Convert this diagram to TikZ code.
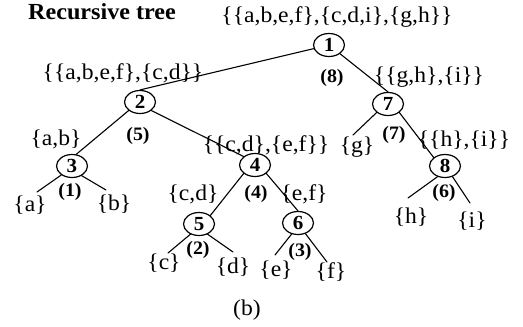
\documentclass[tikz,border=0pt]{standalone}
\usepackage{fontspec}
\setmainfont{Liberation Serif}[FakeStretch=1.05]
\usetikzlibrary{shapes.geometric}

\begin{document}
\begin{tikzpicture}[x=1pt, y=-1pt, line width=1.1pt, line cap=round,
  vtx/.style={ellipse, draw, line width=1.2pt, minimum width=31pt, minimum height=23pt,
    inner sep=0pt, font=\fontsize{20}{20}\selectfont\bfseries},
  set/.style={inner sep=0pt, font=\fontsize{22.5}{22.5}\selectfont},
  cnt/.style={inner sep=0pt, font=\fontsize{19}{19}\selectfont\bfseries}]
  \useasboundingbox (0,0) rectangle (523,327);
  \node[inner sep=0pt, font=\fontsize{23}{23}\selectfont\bfseries] (title) at (102,12) {Recursive tree};
  % the eight vertices
  \node[vtx] (n1) at (329,45) {1};
  \node[vtx] (n2) at (140,102) {2};
  \node[vtx] (n7) at (388,104) {7};
  \node[vtx] (n3) at (72,166) {3};
  \node[vtx] (n4) at (255,165) {4};
  \node[vtx] (n8) at (445,166) {8};
  \node[vtx] (n5) at (199,224) {5};
  \node[vtx] (n6) at (298,223) {6};
  % sets above / beside each vertex
  \node[set] (s1) at (337,17) {\{\{a,b,e,f\},\{c,d,i\},\{g,h\}\}};
  \node[set] (s2) at (123,73) {\{\{a,b,e,f\},\{c,d\}\}};
  \node[set] (s7) at (429,77) {\{\{g,h\},\{i\}\}};
  \node[set] (s3) at (56,139) {\{a,b\}};
  \node[set] (s4) at (266,145) {\{\{c,d\},\{e,f\}\}};
  \node[set] (sg) at (357,147) {\{g\}};
  \node[set] (s8) at (464,140) {\{\{h\},\{i\}\}};
  \node[set] (s5) at (193,194) {\{c,d\}};
  \node[set] (s6) at (304,194) {\{e,f\}};
  \node[set] (sa) at (30,205) {\{a\}};
  \node[set] (sb) at (114,204) {\{b\}};
  \node[set] (sh) at (411,217) {\{h\}};
  \node[set] (si) at (472,221) {\{i\}};
  \node[set] (sc) at (164,263) {\{c\}};
  \node[set] (sd) at (233,267) {\{d\}};
  \node[set] (se) at (276,270) {\{e\}};
  \node[set] (sf) at (331,272) {\{f\}};
  % counts below each vertex
  \node[cnt] (w1) at (332,78) {(8)};
  \node[cnt] (w2) at (138,136) {(5)};
  \node[cnt] (w7) at (394,135) {(7)};
  \node[cnt] (w3) at (70,192) {(1)};
  \node[cnt] (w4) at (256,194) {(4)};
  \node[cnt] (w8) at (444,193) {(6)};
  \node[cnt] (w5) at (198,250) {(2)};
  \node[cnt] (w6) at (300,252) {(3)};
  \node[set] (cap) at (247,310) {(b)};
  % loose ends of the leaf edges
  \coordinate (ea) at (37,192);
  \coordinate (eb) at (106,190);
  \coordinate (eg) at (353,135);
  \coordinate (eh) at (408,198);
  \coordinate (ei) at (470,203);
  \coordinate (ec) at (168,253);
  \coordinate (ed) at (233,252);
  \coordinate (ee) at (275,255);
  \coordinate (ef) at (327,262);
  % edges
  \draw (n1) -- (n2.north);
  \draw (n1) -- (n7.north);
  \draw (n2.south west) -- (n3.70);
  \draw (n2.south east) -- (n4.north west);
  \draw (n7.south west) -- (eg);
  \draw (n7.south east) -- (n8.north west);
  \draw (n3.220) -- (ea);
  \draw (n3.315) -- (eb);
  \draw (n4.south west) -- (n5.north east);
  \draw (n4.south east) -- (n6.north);
  \draw (n8.235) -- (eh);
  \draw (n8.305) -- (ei);
  \draw (n5.230) -- (ec);
  \draw (n5.310) -- (ed);
  \draw (n6.240) -- (ee);
  \draw (n6.305) -- (ef);
\end{tikzpicture}
\end{document}
